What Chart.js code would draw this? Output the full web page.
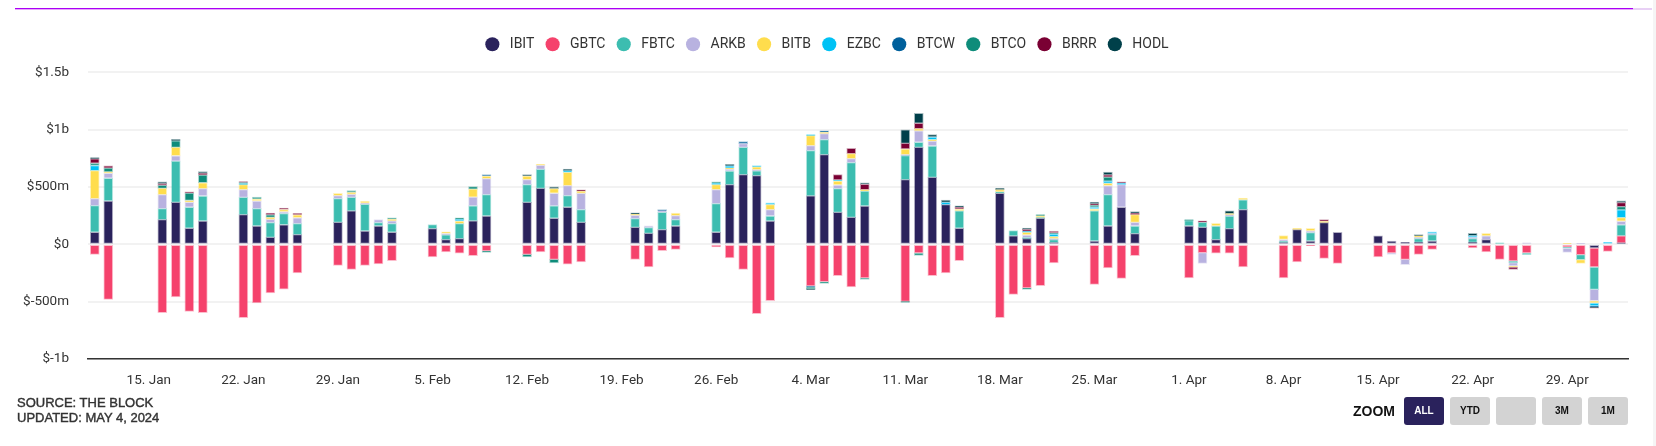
<!DOCTYPE html>
<html>
<head>
<meta charset="utf-8">
<script src="https://cdn.jsdelivr.net/npm/chart.js@4"></script>
<style>
  html, body { margin: 0; padding: 0; background: #fff; }
  #wrap { position: relative; width: 1656px; height: 446px; overflow: hidden; background: #fff; }
  #topline { position: absolute; left: 15px; top: 8px; width: 1618px; height: 1px; background: #aa00f5; box-shadow: 0 1px 0 #e6a6fb; }
  #topline2 { position: absolute; left: 1633px; top: 8px; width: 19px; height: 2px; background: #e8d0f5; }
  #edge { position: absolute; left: 1653px; top: 0; width: 3px; height: 446px; background: #f5f5f5; }
  #source { position: absolute; left: 17px; top: 396px; font: 400 13px/14.7px "Liberation Sans", sans-serif; color: #333; -webkit-text-stroke: 0.4px #333; }
  #zoomlabel { position: absolute; left: 1353px; top: 403px; font: 700 14px/16px "Liberation Sans", sans-serif; color: #111; }
  .btn { position: absolute; top: 397px; width: 40px; height: 28px; border-radius: 3px; background: #d3d3d3; color: #111;
         font: 700 10px/28px "Liberation Sans", sans-serif; text-align: center; }
  canvas { position: absolute; left: 0; top: 0; }
</style>
</head>
<body>
<div id="wrap">
  <canvas id="flows" width="1656" height="446"></canvas>
  <div id="topline"></div>
  <div id="topline2"></div>
  <div id="edge"></div>
  <div id="source">SOURCE: THE BLOCK<br>UPDATED: MAY 4, 2024</div>
  <div id="zoomlabel">ZOOM</div>
  <div class="btn" style="left:1404px;background:#2a225c;color:#fff">ALL</div>
  <div class="btn" style="left:1450px">YTD</div>
  <div class="btn" style="left:1496px"></div>
  <div class="btn" style="left:1542px">3M</div>
  <div class="btn" style="left:1588px">1M</div>
</div>
<script>
// trading days, one row per week
const tradingDays = [
  "11. Jan", "12. Jan", "16. Jan", "17. Jan", "18. Jan", "19. Jan",
  "22. Jan", "23. Jan", "24. Jan", "25. Jan", "26. Jan",
  "29. Jan", "30. Jan", "31. Jan", "1. Feb", "2. Feb",
  "5. Feb", "6. Feb", "7. Feb", "8. Feb", "9. Feb",
  "12. Feb", "13. Feb", "14. Feb", "15. Feb", "16. Feb",
  "20. Feb", "21. Feb", "22. Feb", "23. Feb",
  "26. Feb", "27. Feb", "28. Feb", "29. Feb", "1. Mar",
  "4. Mar", "5. Mar", "6. Mar", "7. Mar", "8. Mar",
  "11. Mar", "12. Mar", "13. Mar", "14. Mar", "15. Mar",
  "18. Mar", "19. Mar", "20. Mar", "21. Mar", "22. Mar",
  "25. Mar", "26. Mar", "27. Mar", "28. Mar",
  "1. Apr", "2. Apr", "3. Apr", "4. Apr", "5. Apr",
  "8. Apr", "9. Apr", "10. Apr", "11. Apr", "12. Apr",
  "15. Apr", "16. Apr", "17. Apr", "18. Apr", "19. Apr",
  "22. Apr", "23. Apr", "24. Apr", "25. Apr", "26. Apr",
  "29. Apr", "30. Apr", "1. May", "2. May", "3. May",
];

// flows in $m, same order as tradingDays
const IBIT = [
  105, 378, 215, 366, 140, 203,
  259, 160, 61, 171, 84,
  192, 291, 116, 160, 105,
  137, 41, 49, 204, 247,
  366, 488, 227, 323, 192,
  148, 96, 128, 160,
  105, 520, 608, 599, 203,
  422, 782, 279, 235, 334,
  564, 846, 584, 346, 140,
  445, 73, 49, 227, 15,
  29, 160, 323, 93,
  160, 148, 41, 137, 302,
  15, 128, 29, 189, 105,
  73, 29, 17, 17, 29,
  17, 41, 0, 0, 0,
  0, 0, -32, 0, 12,
];
const GBTC = [
  -87, -480, -595, -459, -585, -595,
  -640, -512, -424, -392, -250,
  -183, -218, -183, -172, -142,
  -110, -67, -78, -99, -58,
  -87, -67, -131, -174, -154,
  -131, -198, -55, -44,
  -23, -119, -218, -605, -491,
  -363, -326, -273, -372, -294,
  -497, -76, -273, -250, -142,
  -640, -436, -381, -360, -163,
  -349, -206, -297, -99,
  -294, -73, -78, -78, -198,
  -294, -154, -12, -122, -166,
  -110, -76, -131, -87, -44,
  -32, -67, -131, -145, -76,
  -23, -90, -166, -61, 61,
];
const FBTC = [
  233, 198, 96, 360, 183, 218,
  151, 151, 128, 96, 96,
  206, 119, 233, 29, 76,
  35, 41, 131, 131, 186,
  154, 166, 108, 102, 110,
  76, 49, 151, 55,
  250, 119, 238, 41, 44,
  395, 131, 206, 477, 131,
  209, 44, 273, 0, 151,
  12, 47, 9, 6, 26,
  262, 273, 0, 67,
  47, 44, 119, 110, 87,
  12, 0, 73, 0, 0,
  0, 0, 0, 32, 55,
  32, 0, 12, -15, -15,
  -9, -44, -195, 0, 96,
];
const ARKB = [
  61, 44, 122, 46, 44, 64,
  67, 67, 29, 17, 52,
  26, 26, 9, 26, 23,
  0, 12, 0, 76, 140,
  44, 35, 110, 87, 142,
  29, 17, 12, 35,
  122, 17, 32, 12, 55,
  44, 52, 32, 35, 0,
  9, 99, 44, 0, 0,
  0, 0, 23, 0, 9,
  0, 78, 198, 32,
  0, -93, 0, 12, 0,
  15, 0, 15, 0, 0,
  0, -12, -47, 12, 9,
  12, 32, 0, -29, 12,
  -38, 9, -99, 0, 32,
];
const BITB = [
  244, 12, 55, 73, 15, 52,
  44, 17, 17, 20, 26,
  20, 17, 20, 0, 15,
  0, 15, 23, 70, 23,
  32, 9, 41, 116, 20,
  9, 0, 0, 23,
  44, 9, 0, 23, 44,
  87, 12, 35, 44, 12,
  49, 20, 12, 0, 17,
  20, 0, 23, 15, 17,
  17, 20, 0, 67,
  0, 0, 23, 9, 15,
  35, 12, 23, 12, 0,
  0, 0, 0, 12, 0,
  0, 23, 0, -9, 0,
  9, -32, -20, 0, 32,
];
const EZBC = [
  44, 0, 0, 0, 0, 0,
  9, 0, 0, 0, 0,
  0, 0, 0, 0, 0,
  0, 0, 15, 0, 0,
  0, 0, 0, 15, 0,
  0, 0, 0, 0,
  12, 20, 0, 12, 15,
  9, 0, 9, 0, 0,
  0, 0, 23, 20, 0,
  0, 0, 9, 0, 23,
  17, 20, 12, 0,
  0, 0, 0, 0, 0,
  0, 0, 0, 0, 0,
  0, 0, 0, 0, 15,
  15, 0, 0, 0, 0,
  0, 0, -26, 17, 67,
];
const BTCW = [
  0, 0, 0, 0, 0, 0,
  0, 0, 0, 0, 0,
  0, 0, 0, 0, 0,
  0, 0, 0, 0, 12,
  0, 0, 0, 0, 0,
  0, 0, 12, 0,
  0, 0, 17, 0, 0,
  -9, 12, 0, 0, 0,
  0, 0, 0, 0, 0,
  0, 0, 0, 0, 0,
  0, 0, 0, 0,
  0, 0, 0, 0, 0,
  0, 0, 0, 0, 0,
  0, 0, 0, 0, 0,
  0, 0, 0, 0, 0,
  0, 0, -6, 0, 0,
];
const BTCO = [
  20, 32, 26, 58, 64, 67,
  9, 17, 23, 0, 0,
  0, 15, 0, 0, 12,
  0, 0, 12, 23, -12,
  -23, 0, -32, 0, 0,
  0, 0, 0, 0,
  12, 0, 0, 0, 0,
  -15, -15, 0, 0, -12,
  -9, -20, 0, 0, 0,
  0, 0, -12, 12, 9,
  17, 35, 0, 0,
  9, 0, 0, 0, 0,
  0, 0, 0, 0, 0,
  0, 0, 0, 0, 0,
  0, 0, 0, 0, 0,
  0, 0, -6, 0, 29,
];
const BRRR = [
  38, 20, 15, 0, 12, 15,
  9, 0, 15, 12, 12,
  0, 0, 0, 0, 0,
  0, 0, 0, 0, 0,
  0, 0, 0, 0, 12,
  0, 0, 0, 0,
  0, 0, 0, 0, 0,
  0, 0, 47, 47, 47,
  49, 47, 0, 0, 15,
  0, 0, 17, 0, 17,
  12, 20, 12, 12,
  0, 12, 0, 0, 0,
  0, 0, 0, 15, 0,
  0, 0, 0, 0, 0,
  0, 0, 0, -20, 0,
  0, 0, -6, 0, 35,
];
const HODL = [
  12, 0, 15, 12, 0, 15,
  0, 0, 0, 0, 0,
  0, 0, 0, 0, 0,
  0, 0, 0, 0, 0,
  12, 0, 15, 12, 0,
  12, 0, 0, 0,
  0, 12, 0, 0, 0,
  -9, 0, 0, 0, 12,
  119, 87, 20, 20, 12,
  12, 0, 12, 0, 0,
  15, 23, 0, 15,
  0, 0, 0, 23, 0,
  0, 0, 0, 0, 0,
  0, 0, 0, 12, 0,
  20, 0, 0, 0, 0,
  0, 0, 0, 0, 15,
];

const yTicks = { 1500: "$1.5b", 1000: "$1b", 500: "$500m", 0: "$0", "-500": "$-500m", "-1000": "$-1b" };

// every calendar day gets a slot so weekends stay empty
const monthNames = ["Jan", "Feb", "Mar", "Apr", "May"];
const monthLengths = [31, 29, 31, 30, 3];
const allDays = [];
monthNames.forEach((m, i) => {
  for (let d = i === 0 ? 11 : 1; d <= monthLengths[i]; d++) allDays.push(d + ". " + m);
});

function makeSet(label, values, color, edge) {
  return {
    label: label,
    data: tradingDays.map((day, i) => ({ x: day, y: values[i] || null })),
    backgroundColor: color,
    borderColor: edge,
    borderWidth: 1,
    borderSkipped: false,
    barThickness: 9,
    stack: "flows",
  };
}

const axisFont = { family: "Roboto", size: 13.5 };

// tighter text, more room under the legend, and legend centred on the page not the plot
const pageTweaks = {
  id: "pageTweaks",
  beforeInit(chart) {
    chart.ctx.letterSpacing = "-0.5px";
    const legend = chart.legend;
    const fit = legend.fit;
    const draw = legend.draw;
    legend.fit = function () {
      fit.call(this);
      this.height += 10;
    };
    legend.draw = function () {
      chart.ctx.save();
      chart.ctx.translate(13, -1);
      draw.call(this);
      chart.ctx.restore();
    };
  },
};

new Chart("flows", {
  type: "bar",
  plugins: [pageTweaks],
  data: {
    labels: allDays,
    datasets: [
      makeSet("IBIT", IBIT, "#2a225c", "rgba(42,34,92,0.35)"),
      makeSet("GBTC", GBTC, "#f5426c", "rgba(245,66,108,0.35)"),
      makeSet("FBTC", FBTC, "#3cbdb0", "rgba(60,189,176,0.35)"),
      makeSet("ARKB", ARKB, "#b8b2e0", "rgba(184,178,224,0.35)"),
      makeSet("BITB", BITB, "#ffdd4d", "rgba(255,221,77,0.35)"),
      makeSet("EZBC", EZBC, "#00c2f5", "rgba(0,194,245,0.35)"),
      makeSet("BTCW", BTCW, "#00609c", "rgba(0,96,156,0.35)"),
      makeSet("BTCO", BTCO, "#0e8c7a", "rgba(14,140,122,0.35)"),
      makeSet("BRRR", BRRR, "#7a0033", "rgba(122,0,51,0.35)"),
      makeSet("HODL", HODL, "#00404a", "rgba(0,64,74,0.35)"),
    ],
  },
  options: {
    responsive: false,
    animation: false,
    layout: { padding: { top: 27, right: 28, bottom: 0, left: 0 } },
    plugins: {
      tooltip: { enabled: false },
      legend: {
        position: "top",
        labels: {
          usePointStyle: true,
          pointStyle: "circle",
          boxWidth: 14,
          boxHeight: 10,
          padding: 11.3,
          color: "#333",
          font: { family: "Roboto", size: 14 },
          generateLabels(chart) {
            return Chart.defaults.plugins.legend.labels.generateLabels(chart).map((item) => {
              item.text = "\u00a0" + item.text;
              item.lineWidth = 0;
              return item;
            });
          },
        },
      },
    },
    scales: {
      x: {
        stacked: true,
        offset: true,
        grid: { display: false },
        border: { color: "#333", width: 1.5 },
        ticks: {
          autoSkip: false,
          maxRotation: 0,
          padding: 6,
          color: "#333",
          font: axisFont,
          callback(value, index) {
            return (index - 4) % 7 === 0 ? this.getLabelForValue(value) : "";
          },
        },
        afterFit(scale) {
          scale.height = 87;
        },
      },
      y: {
        stacked: true,
        min: -1000,
        max: 1500,
        grid: { color: "#f2f2f2", lineWidth: 2, drawTicks: false },
        border: { display: false },
        ticks: {
          stepSize: 500,
          padding: 19,
          color: "#333",
          font: axisFont,
          callback(value) {
            return yTicks[value];
          },
        },
        afterFit(scale) {
          scale.width = 88;
        },
      },
    },
  },
});
</script>
</body>
</html>
